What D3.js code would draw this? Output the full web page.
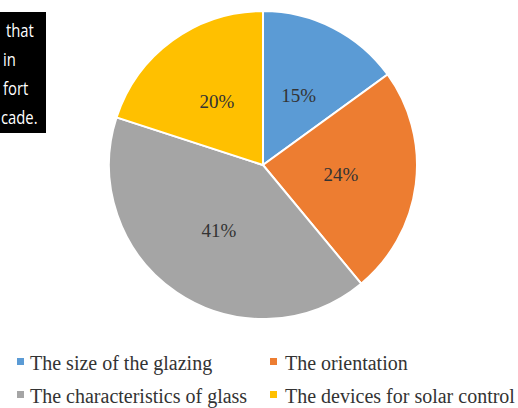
<html>
<head>
<script src="https://d3js.org/d3.v7.min.js"></script>
<style>
  body { margin: 0; background: #fff; }
</style>
</head>
<body>
<script>
  var categories = ["The size of the glazing", "The orientation", "The characteristics of glass", "The devices for solar control"];
  var values = [15, 24, 41, 20];
  var colors = ["#5B9BD5", "#ED7D31", "#A5A5A5", "#FFC000"];
  var boxLines = ["that", "in", "fort", "cade."];

  var width = 518, height = 408;
  var cx = 263, cy = 165, radius = 154;

  var svg = d3.select("body").append("svg")
      .attr("width", width)
      .attr("height", height);

  // cropped caption box top-left
  svg.append("rect")
      .attr("x", 0).attr("y", 12)
      .attr("width", 46).attr("height", 121)
      .attr("fill", "#000");

  svg.selectAll("text.box")
      .data(boxLines)
      .enter()
      .append("text")
      .attr("class", "box")
      .attr("transform", function(d, i){ return "translate(" + (i == 0 ? 6 : i == 3 ? 1 : 3) + "," + (37 + i * 29) + ") scale(0.78,1)"; })
      .attr("fill", "#fff")
      .style("font-family", "'Open Sans', 'DejaVu Sans', sans-serif")
      .style("font-size", "19px")
      .text(function(d){ return d; });

  var pie = d3.pie().sort(null).value(function(d){ return d; });
  var arc = d3.arc().innerRadius(0).outerRadius(radius);
  var labelArc = d3.arc().innerRadius(radius * 0.51).outerRadius(radius * 0.51);

  var g = svg.append("g")
      .attr("transform", "translate(" + cx + "," + cy + ")");

  g.selectAll("path")
      .data(pie(values))
      .enter()
      .append("path")
      .attr("d", arc)
      .attr("fill", function(d, i){ return colors[i]; })
      .attr("stroke", "#fff")
      .attr("stroke-width", 2);

  g.selectAll("text")
      .data(pie(values))
      .enter()
      .append("text")
      .attr("transform", function(d){ return "translate(" + labelArc.centroid(d) + ")"; })
      .attr("text-anchor", "middle")
      .attr("dy", "0.35em")
      .attr("fill", "#333")
      .style("font-family", "'Liberation Serif', serif")
      .style("font-size", "19px")
      .text(function(d){ return d.data + "%"; });

  // legend, two columns
  var legendX = [17, 270], legendY = [363, 396];
  var legend = svg.selectAll("g.legend")
      .data(categories)
      .enter()
      .append("g")
      .attr("class", "legend")
      .attr("transform", function(d, i){ return "translate(" + legendX[i % 2] + "," + legendY[Math.floor(i / 2)] + ")"; });

  legend.append("rect")
      .attr("x", 0).attr("y", -5)
      .attr("width", 7).attr("height", 7)
      .attr("fill", function(d, i){ return colors[i]; });

  legend.append("text")
      .attr("x", function(d, i){ return i % 2 == 0 ? 13 : 15; })
      .attr("dy", "0.33em")
      .attr("fill", "#333")
      .style("font-family", "'Liberation Serif', serif")
      .style("font-size", "20px")
      .text(function(d){ return d; });
</script>
</body>
</html>
